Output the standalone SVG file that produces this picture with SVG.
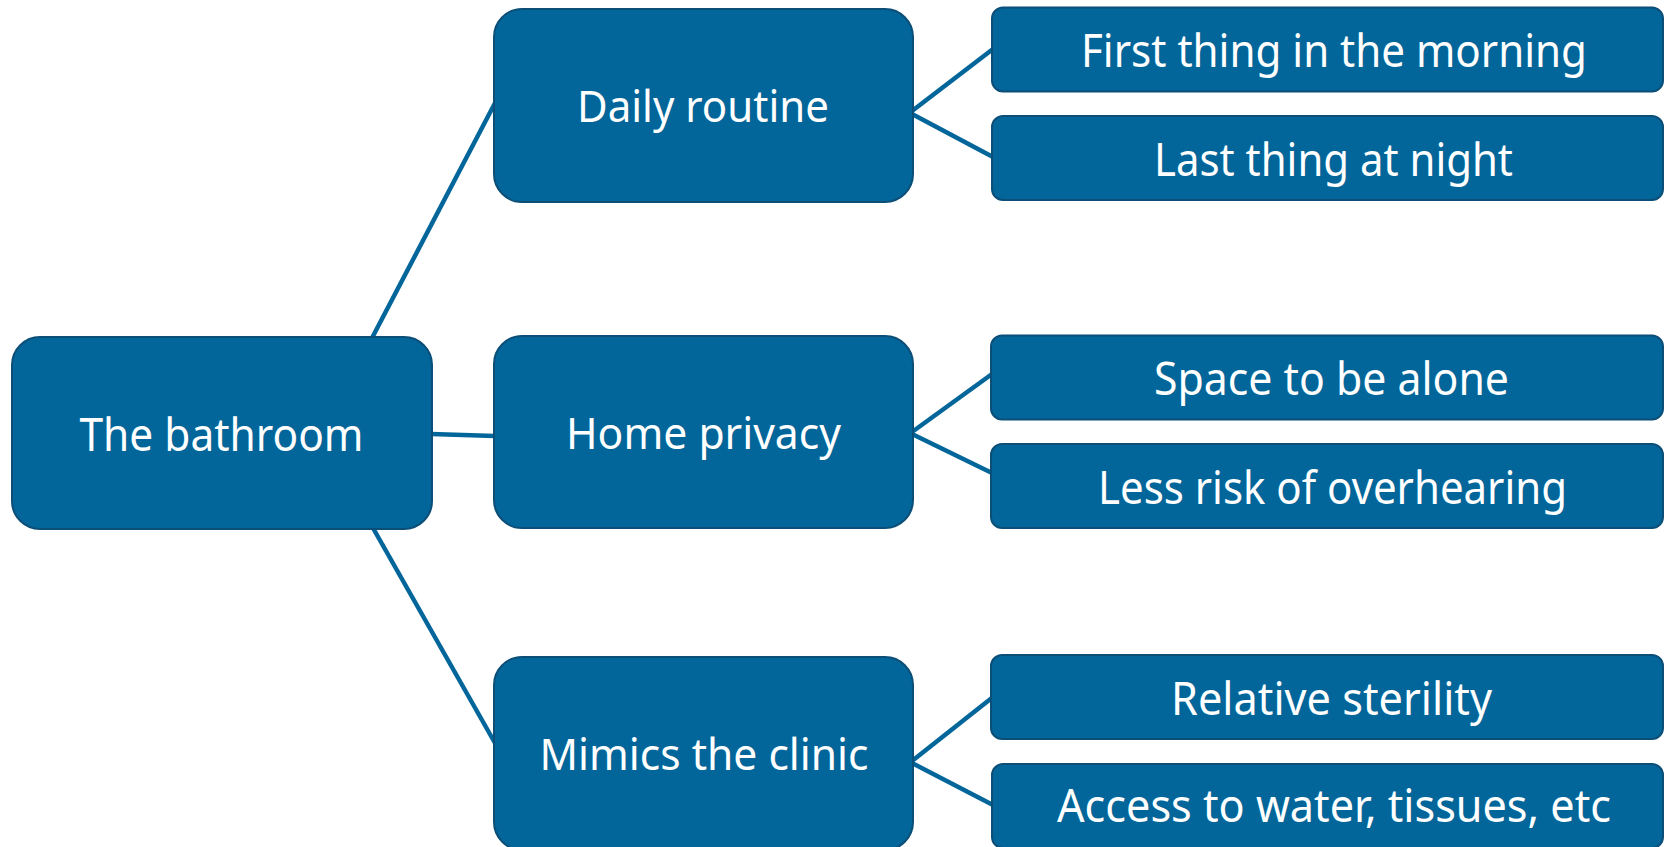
<svg xmlns="http://www.w3.org/2000/svg" width="1665" height="847" viewBox="0 0 1665 847">
  <style>
    .box { fill: #02669a; stroke: #0b4f78; stroke-width: 2; }
    .link { stroke: #03669a; stroke-width: 4.5; fill: none; stroke-linecap: butt; }
    .lbl { fill: #ffffff; font-family: "Noto Sans", "Open Sans", sans-serif; text-anchor: middle; }
    .big { font-size: 46px; }
    .mid { font-size: 44px; }
    .leaf { font-size: 46px; }
  </style>
  <rect width="1665" height="847" fill="#ffffff"/>

  <!-- connectors -->
  <g id="connectors">
    <line class="link" x1="372" y1="338" x2="495" y2="103"/>
    <line class="link" x1="431" y1="434" x2="495" y2="436"/>
    <line class="link" x1="373" y1="528" x2="495" y2="743"/>
    <line class="link" x1="912" y1="111" x2="993" y2="49"/>
    <line class="link" x1="912" y1="114" x2="993" y2="157"/>
    <line class="link" x1="912" y1="432" x2="992" y2="374"/>
    <line class="link" x1="912" y1="434" x2="992" y2="473"/>
    <line class="link" x1="912" y1="761" x2="993" y2="697"/>
    <line class="link" x1="912" y1="763" x2="993" y2="805"/>
  </g>

  <!-- root -->
  <g id="node-bathroom">
    <rect class="box" x="12" y="337" width="420" height="192" rx="28"/>
    <text class="lbl big" x="221.5" y="451" textLength="284" lengthAdjust="spacingAndGlyphs">The bathroom</text>
  </g>

  <!-- second level -->
  <g id="node-daily">
    <rect class="box" x="494" y="9" width="419" height="193" rx="28"/>
    <text class="lbl mid" x="703" y="122" textLength="252" lengthAdjust="spacingAndGlyphs">Daily routine</text>
  </g>
  <g id="node-privacy">
    <rect class="box" x="494" y="336" width="419" height="192" rx="28"/>
    <text class="lbl mid" x="703.5" y="449" textLength="275" lengthAdjust="spacingAndGlyphs">Home privacy</text>
  </g>
  <g id="node-clinic">
    <rect class="box" x="494" y="657" width="419" height="193" rx="28"/>
    <text class="lbl mid" x="704" y="770" textLength="329" lengthAdjust="spacingAndGlyphs">Mimics the clinic</text>
  </g>

  <!-- leaves -->
  <g id="node-morning">
    <rect class="box" x="992" y="7.5" width="671" height="84" rx="11"/>
    <text class="lbl leaf" x="1334" y="67" textLength="506" lengthAdjust="spacingAndGlyphs">First thing in the morning</text>
  </g>
  <g id="node-night">
    <rect class="box" x="992" y="116" width="671" height="84" rx="11"/>
    <text class="lbl leaf" x="1333.5" y="175.5" textLength="359" lengthAdjust="spacingAndGlyphs">Last thing at night</text>
  </g>
  <g id="node-alone">
    <rect class="box" x="991" y="335.5" width="672" height="84" rx="11"/>
    <text class="lbl leaf" x="1331.5" y="395" textLength="355" lengthAdjust="spacingAndGlyphs">Space to be alone</text>
  </g>
  <g id="node-overhearing">
    <rect class="box" x="991" y="444" width="672" height="84" rx="11"/>
    <text class="lbl leaf" x="1332.5" y="503.5" textLength="469" lengthAdjust="spacingAndGlyphs">Less risk of overhearing</text>
  </g>
  <g id="node-sterility">
    <rect class="box" x="991" y="655" width="672" height="84" rx="11"/>
    <text class="lbl leaf" x="1331.5" y="714.5" textLength="321" lengthAdjust="spacingAndGlyphs">Relative sterility</text>
  </g>
  <g id="node-water">
    <rect class="box" x="992" y="764" width="671" height="84" rx="11"/>
    <text class="lbl leaf" x="1334" y="822" textLength="554" lengthAdjust="spacingAndGlyphs">Access to water, tissues, etc</text>
  </g>
</svg>
